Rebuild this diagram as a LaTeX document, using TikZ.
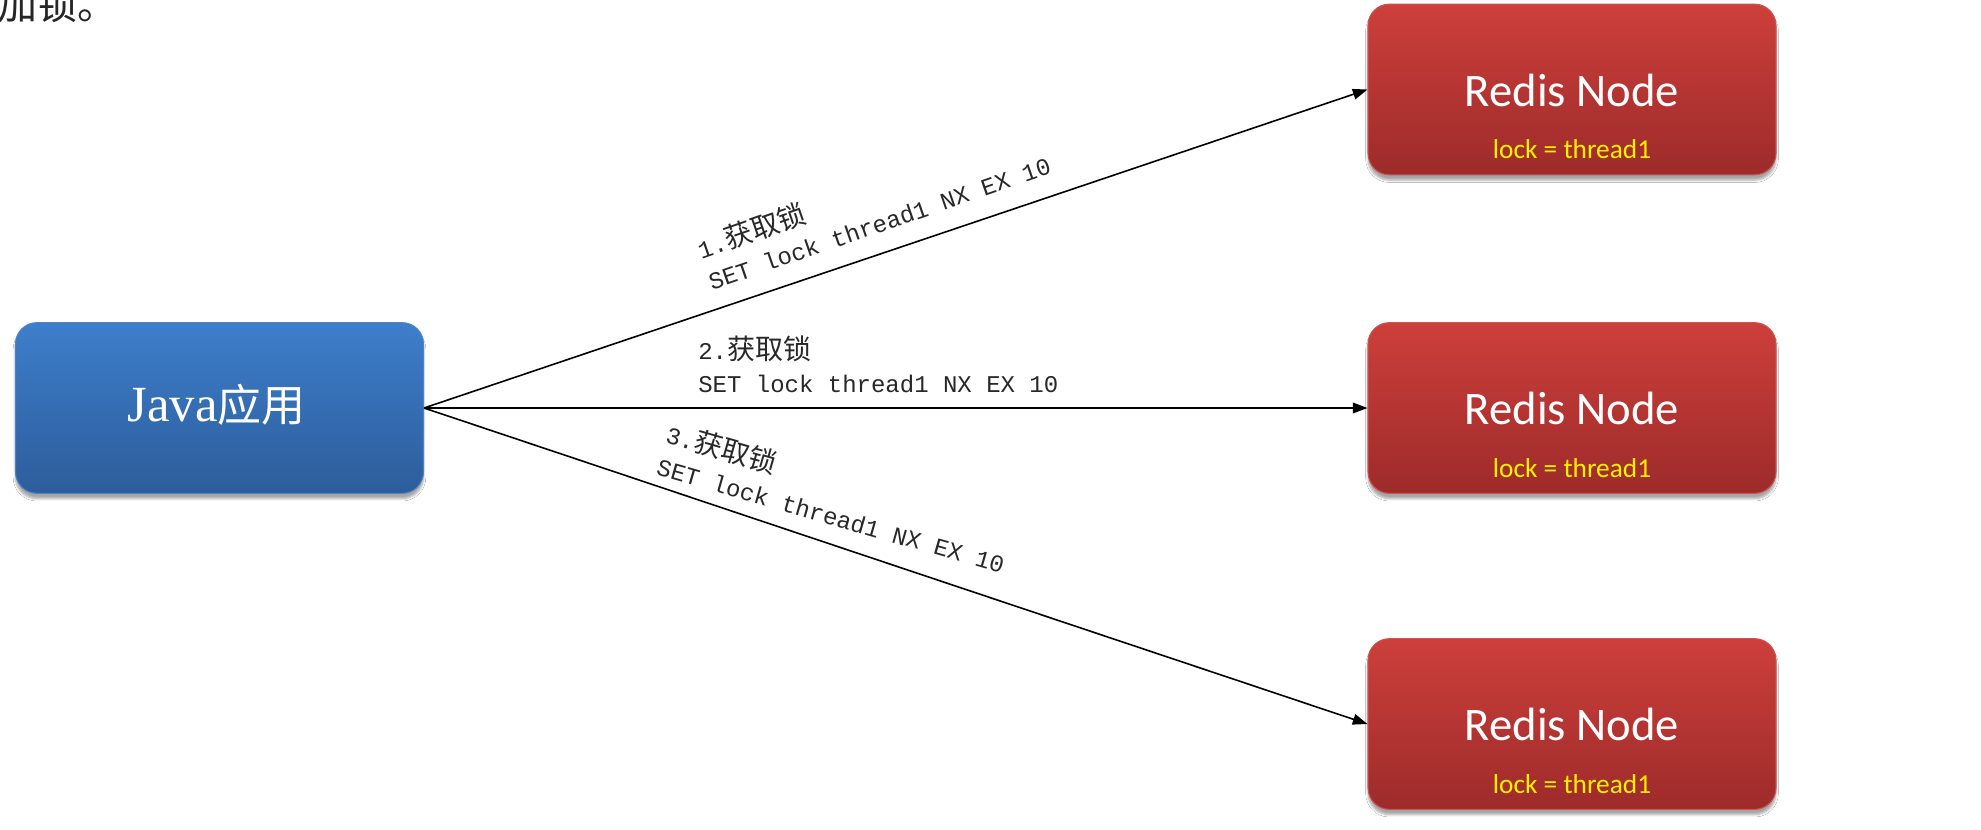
\documentclass[tikz,border=0pt]{standalone}
\usepackage{fontspec}
\newfontfamily\cjk{Noto Sans CJK SC}
\newfontfamily\monof{Liberation Mono}
\newfontfamily\calib{Carlito}
\newfontfamily\serifl{Liberation Serif}
\usetikzlibrary{arrows.meta,shadows.blur,calc}
\definecolor{redtop}{RGB}{205,63,59}
\definecolor{redbot}{RGB}{157,43,42}
\definecolor{redline}{RGB}{200,85,82}
\definecolor{bluetop}{RGB}{61,126,203}
\definecolor{bluebot}{RGB}{45,93,155}
\definecolor{blueline}{RGB}{80,130,190}
\definecolor{lbltext}{RGB}{40,40,40}
\begin{document}
\begin{tikzpicture}[x=0.75pt,y=-0.75pt,
  boxbase/.style={rounded corners=16pt, line width=0.8pt, minimum width=306pt, minimum height=128pt, inner sep=0pt,
    blur shadow={shadow xshift=0pt, shadow yshift=-4pt, shadow blur steps=6, shadow opacity=35}},
  redisbox/.style={boxbase, draw=redline, top color=redtop, bottom color=redbot},
  javabox/.style={boxbase, draw=blueline, top color=bluetop, bottom color=bluebot},
  redistitle/.style={text=white, font=\calib\fontsize{35}{40}\selectfont, inner sep=0pt, anchor=base},
  locktext/.style={text=yellow, font=\calib\fontsize{20.5}{24}\selectfont, inner sep=0pt, anchor=base},
  lbl/.style={text=lbltext, font=\monof\fontsize{18}{24.75}\selectfont, align=left, inner sep=0pt, anchor=south west},
  conn/.style={line width=1.2pt, -{Triangle[length=11pt,width=8pt]}}
]
\useasboundingbox (0,0) rectangle (1981,829);
\fill[white] (0,0) rectangle (1981,829);

% top clipped text
\node[anchor=base west, inner sep=0pt, text=black!85, font=\cjk\fontsize{30}{34}\selectfont] (top) at (-3,19) {加锁。};

% boxes
\node[javabox] (java) at (219.5,408) {};
\node[redisbox] (r1) at (1572,89.5) {};
\node[redisbox] (r2) at (1572,408) {};
\node[redisbox] (r3) at (1572,724) {};

% box texts
\node[text=white, inner sep=0pt, anchor=base] (jt) at ($(java.north)+(-3,99)$)
  {{\serifl\fontsize{38}{42}\selectfont Java}{\cjk\fontsize{33}{42}\selectfont 应用}};
\foreach \r in {r1,r2,r3}{
  \node[redistitle] (\r t) at ($(\r.north)+(0,102.5)$) {Redis Node};
  \node[locktext] (\r l) at ($(\r.north)+(0,155)$) {lock = thread1};
}

% connectors
\draw[conn] (java.east) -- (r1.west);
\draw[conn] (java.east) -- (r2.west);
\draw[conn] (java.east) -- (r3.west);

% labels
\node[lbl, rotate=19] (l1) at (712,291)
  {1.{\cjk\fontsize{21}{24.75}\selectfont 获取锁}\\SET lock thread1 NX EX 10};
\node[lbl] (l2) at (698,393)
  {2.{\cjk\fontsize{21}{24.75}\selectfont 获取锁}\\SET lock thread1 NX EX 10};
\node[lbl, rotate=-16] (l3) at (655,475)
  {3.{\cjk\fontsize{21}{24.75}\selectfont 获取锁}\\SET lock thread1 NX EX 10};
\end{tikzpicture}
\end{document}
